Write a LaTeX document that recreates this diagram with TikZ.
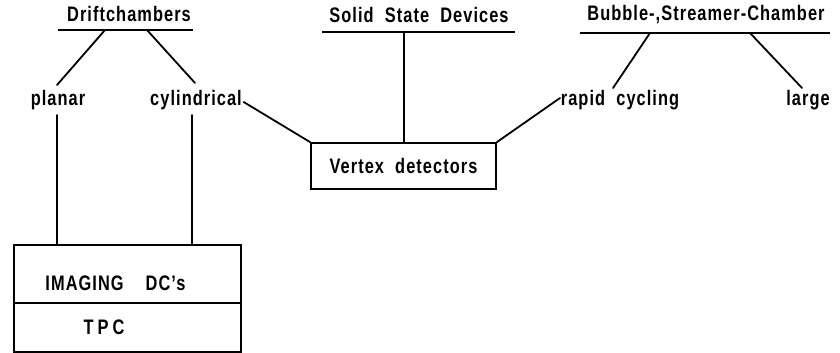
\documentclass[tikz,border=0pt]{standalone}
\usepackage{fontspec}
\setmainfont[FakeStretch=0.78,LetterSpace=5,WordSpace=2]{Liberation Sans}
\begin{document}
\begin{tikzpicture}[x=1pt,y=-1pt,line width=1.8pt,
  lbl/.style={inner sep=0pt,font=\fontsize{21}{21}\selectfont\bfseries},
  conn/.style={draw,line cap=round}]
\useasboundingbox (0,0) rectangle (840,353);

% category headings with underlines
\node[lbl] (drift) at (129,14) {Driftchambers};
\coordinate (dL) at (58,30); \coordinate (dR) at (193,30);
\draw (dL) -- (dR);
\node[lbl] (solid) at (419,15) {Solid State Devices};
\coordinate (sL) at (322,32); \coordinate (sR) at (515,32);
\draw (sL) -- (sR);
\node[lbl] (bubble) at (706,15) {Bubble-,Streamer-Chamber};
\coordinate (bL) at (580,33); \coordinate (bR) at (830,33);
\draw (bL) -- (bR);

% subtypes
\node[lbl] (planar) at (58,100) {planar};
\node[lbl] (cyl) at (196,100) {cylindrical};
\node[lbl] (rapid) at (620,100) {rapid cycling};
\node[lbl] (large) at (808,100) {large};

% vertex detector box
\node[lbl,draw,minimum width=185pt,minimum height=46pt] (vertex) at (403.5,166) {Vertex detectors};

% imaging drift chamber / TPC box
\draw (14,245) rectangle (241,352);
\draw (14,303) -- (241,303);
\node[lbl] (imaging) at (115.5,283) {IMAGING\hspace{22pt}DC's};
\node[lbl] (tpc) at (104,327) {T\hspace{4pt}P\hspace{4pt}C};

% connectors
\draw[conn] (105,30) -- (57,85);
\draw[conn] (147,30) -- (195,83);
\draw[conn] (404,32) -- (vertex.north -| 404,0);
\draw[conn] (650,33) -- (613,88);
\draw[conn] (750,33) -- (802,88);
\draw[conn] ([shift={(1pt,-2pt)}]cyl.east) -- (vertex.north west);
\draw[conn] (vertex.north east) -- ([yshift=2pt]rapid.west);
\draw[conn] (57,115) -- (57,245);
\draw[conn] (192,115) -- (192,245);
\end{tikzpicture}
\end{document}
